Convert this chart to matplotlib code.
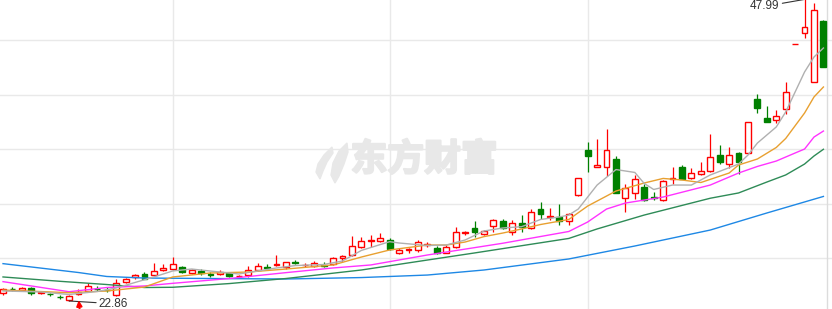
import matplotlib
matplotlib.use("Agg")
import matplotlib.pyplot as plt
import matplotlib.patheffects as pe
from matplotlib.patches import Rectangle, Polygon

# daily K-line (price units)
opens = [23.52, 23.88, 23.77, 23.94, 23.52, 23.46, 23.19, 22.97, 23.44, 23.72,
         23.87, 23.80, 23.36, 24.42, 24.83, 25.11, 25.05, 25.44, 25.55, 25.66,
         25.21, 25.36, 25.11, 25.08, 25.17, 24.92, 25.00, 25.47, 25.69, 25.83,
         25.69, 26.11, 25.82, 25.80, 25.86, 25.92, 26.42, 26.72, 27.36, 27.86,
         27.83, 27.92, 26.83, 27.13, 27.11, 27.52, 27.27, 26.88, 27.38, 28.50,
         28.92, 28.42, 29.08, 29.50, 28.58, 29.36, 28.97, 30.50, 29.83, 29.83,
         29.52, 31.69, 35.44, 34.05, 34.00, 34.69, 31.42, 31.88, 32.33, 31.52,
         31.27, 32.99, 34.00, 33.08, 33.42, 33.72, 35.02, 34.27, 35.17, 35.17,
         39.67, 38.08, 37.91, 38.86, 44.30, 45.17, 41.13, 46.22]
highs = [23.94, 24.02, 24.02, 24.02, 23.72, 23.55, 23.36, 23.36, 23.83, 24.36,
         24.11, 24.05, 24.69, 24.75, 25.11, 25.27, 26.00, 25.97, 26.50, 25.77,
         25.55, 25.52, 25.27, 25.44, 25.30, 25.05, 25.77, 26.00, 25.92, 26.69,
         26.13, 26.25, 26.00, 26.17, 26.13, 26.50, 26.72, 28.27, 28.17, 28.36,
         28.50, 28.13, 27.25, 27.30, 27.94, 27.80, 27.44, 27.52, 29.05, 28.71,
         29.52, 28.77, 29.69, 29.67, 29.61, 30.02, 30.52, 31.08, 30.58, 30.92,
         30.17, 33.11, 36.08, 36.36, 37.19, 34.97, 32.61, 33.36, 32.61, 31.97,
         32.91, 34.00, 34.19, 33.92, 34.42, 36.75, 35.86, 35.67, 35.25, 37.77,
         40.08, 39.11, 38.77, 41.13, 44.30, 47.99, 47.72, 46.27]
lows = [23.36, 23.69, 23.69, 23.36, 23.44, 23.30, 23.03, 22.86, 23.36, 23.61,
        23.67, 23.63, 23.30, 24.33, 24.69, 24.69, 25.00, 25.33, 25.44, 25.16,
        25.08, 25.05, 24.86, 25.05, 24.88, 24.80, 24.83, 25.38, 25.44, 25.77,
        25.52, 25.94, 25.72, 25.72, 25.72, 25.83, 26.13, 26.61, 27.27, 27.38,
        27.75, 27.11, 26.77, 26.88, 26.92, 27.38, 26.77, 26.83, 27.25, 28.36,
        28.17, 28.36, 28.58, 28.83, 28.36, 28.63, 28.83, 29.69, 29.61, 29.19,
        29.19, 31.61, 33.63, 34.05, 33.30, 31.88, 30.30, 31.33, 31.21, 31.27,
        31.19, 32.61, 33.02, 33.02, 33.36, 33.63, 34.25, 33.97, 33.44, 35.15,
        38.50, 37.80, 37.67, 38.42, 44.30, 44.75, 41.13, 42.38]
closes = [23.86, 23.83, 23.90, 23.52, 23.57, 23.42, 23.15, 23.25, 23.63, 24.13,
          23.83, 23.75, 24.38, 24.67, 25.02, 24.73, 25.33, 25.61, 25.92, 25.27,
          25.44, 25.17, 25.06, 25.30, 24.97, 24.96, 25.47, 25.75, 25.64, 25.97,
          26.07, 26.06, 25.87, 26.00, 25.81, 26.42, 26.58, 27.47, 27.83, 27.94,
          28.08, 27.22, 27.11, 27.22, 27.75, 27.63, 26.88, 27.38, 28.63, 28.63,
          28.58, 28.66, 29.61, 28.94, 29.33, 29.00, 30.25, 30.08, 29.94, 29.55,
          30.08, 33.08, 34.94, 34.19, 35.42, 31.88, 32.25, 32.99, 31.27, 31.47,
          32.88, 33.13, 33.02, 33.50, 33.72, 34.83, 34.47, 35.00, 34.42, 37.75,
          38.92, 37.80, 38.25, 40.25, 44.30, 45.66, 47.11, 42.38]

# moving average lines at these candle indices
ma5_idx = [0, 4, 7, 10, 12, 14, 16, 18, 20, 23, 25, 26, 29, 31, 34, 36, 38, 41, 42, 45,
           47, 49, 51, 53, 55, 57, 59, 60, 61, 63, 65, 67, 68, 69, 71, 73, 75, 78, 79, 80,
           82, 83, 85, 86, 87]
ma5 = [23.69, 23.61, 23.40, 23.65, 23.94, 24.40, 24.86, 25.36, 25.52, 25.27,
       25.11, 25.23, 25.61, 25.81, 25.90, 26.19, 27.07, 27.80, 27.69, 27.48,
       27.52, 27.94, 28.69, 28.94, 29.05, 29.65, 29.86, 30.02, 30.52, 32.52,
       33.81, 33.57, 32.65, 32.15, 32.52, 32.52, 33.36, 34.27, 35.02, 36.02,
       37.36, 38.61, 41.94, 43.19, 43.94]
ma10_idx = [0, 7, 11, 15, 18, 22, 26, 30, 35, 38, 41, 45, 47, 49, 51, 53, 55, 57, 60, 62,
            65, 68, 70, 72, 74, 77, 78, 80, 82, 83, 85, 86, 87]
ma10 = [23.77, 23.55, 23.69, 24.02, 24.86, 25.19, 25.27, 25.52, 25.86, 26.52,
        27.11, 27.52, 27.52, 27.77, 28.22, 28.52, 28.86, 29.23, 29.65, 30.77,
        32.02, 32.69, 33.07, 32.94, 32.73, 33.52, 34.19, 34.69, 35.65, 36.40,
        38.52, 39.86, 40.69]
ma20_idx = [0, 7, 11, 15, 18, 24, 30, 35, 39, 45, 53, 60, 62, 64, 66, 70, 75, 78, 80, 82,
            84, 85, 86, 87]
ma20 = [24.47, 23.63, 23.98, 24.11, 24.33, 24.73, 25.22, 25.61, 25.86, 26.69,
        27.67, 28.65, 29.44, 30.52, 31.02, 31.52, 32.52, 33.52, 34.07, 34.52,
        35.19, 35.52, 36.52, 37.02]
ma30_idx = [0, 6, 11, 15, 18, 24, 30, 38, 45, 50, 60, 63, 68, 75, 78, 81, 83, 85, 86, 87]
ma30 = [24.86, 24.50, 24.23, 23.98, 24.00, 24.31, 24.73, 25.44, 26.27, 26.86,
        28.07, 28.86, 30.02, 31.42, 31.86, 32.77, 33.36, 34.27, 34.94, 35.50]
ma60_idx = [0, 8, 11, 15, 22, 30, 38, 45, 51, 60, 67, 75, 81, 87]
ma60 = [25.97, 25.23, 24.90, 24.77, 24.73, 24.69, 24.81, 25.02, 25.44, 26.36,
        27.44, 28.77, 30.19, 31.57]

grid_prices = [26.44, 30.98, 35.52, 40.06, 44.60]
month_idx = [18, 41, 62]
max_idx, max_price = 85, 47.99
min_idx, min_price = 7, 22.86
buy_idx, buy_price = 8, 23.15

UP = "#ff0000"
DOWN = "#008000"
W, H = 832, 309

fig = plt.figure(figsize=(W / 100, H / 100), dpi=100)
ax = fig.add_axes([0, 0, 1, 1])
ax.set_xlim(-0.32, 87.91)
ax.set_ylim(22.19, 47.94)
ax.axis("off")

for p in grid_prices:
    ax.axhline(p, color="#e9e9e9", lw=1.0, zorder=0)
for m in month_idx:
    ax.axvline(m, color="#e9e9e9", lw=1.0, zorder=0)
ax.axvline(87.4, color="#dcdcdc", lw=1.0, zorder=0)


def px(x, y):
    return (x / W, 1 - y / H)


# watermark
WM = "#e8e8e8"
wm = dict(facecolor=WM, edgecolor=WM, lw=1.0, transform=ax.transAxes, zorder=0.5)
ax.add_patch(Polygon([px(*p) for p in [(332, 147), (324, 155), (318, 164), (316, 172),
                                        (320, 179), (323, 171), (327, 162), (333, 153)]], **wm))
ax.add_patch(Polygon([px(*p) for p in [(347, 143), (339, 151), (333, 163), (331, 175),
                                        (335, 183), (339, 176), (344, 164), (348, 152)]], **wm))
ax.text(*px(424, 160), "东方财富", transform=ax.transAxes, ha="center", va="center",
        fontsize=26.5, fontweight="heavy", color=WM,
        family=["Noto Sans CJK SC", "DejaVu Sans"], zorder=0.5,
        path_effects=[pe.withStroke(linewidth=1.6, foreground=WM)])

bw = 0.62
for i, (o, h, l, c) in enumerate(zip(opens, highs, lows, closes)):
    top, bot = max(o, c), min(o, c)
    if c >= o:
        ax.vlines(i, top, h, color=UP, lw=0.9, zorder=3)
        ax.vlines(i, l, bot, color=UP, lw=0.9, zorder=3)
        ax.add_patch(Rectangle((i - bw / 2, bot), bw, top - bot, facecolor="white",
                               edgecolor=UP, lw=1.0, zorder=3))
    else:
        ax.vlines(i, l, h, color=DOWN, lw=0.9, zorder=3)
        ax.add_patch(Rectangle((i - bw / 2, bot), bw, top - bot, facecolor=DOWN,
                               edgecolor=DOWN, lw=1.0, zorder=3))

ax.plot(ma60_idx, ma60, color="#1e88e5", lw=1.0, zorder=4)
ax.plot(ma30_idx, ma30, color="#2e8b57", lw=1.0, zorder=4)
ax.plot(ma20_idx, ma20, color="#ff33ff", lw=1.0, zorder=4)
ax.plot(ma10_idx, ma10, color="#e8a030", lw=1.0, zorder=4)
ax.plot(ma5_idx, ma5, color="#b0b0b0", lw=1.0, zorder=4)

num = dict(fontsize=8.5, color="#333333", family="Liberation Sans", va="center",
           arrowprops=dict(arrowstyle="-", color="#333333", lw=0.8,
                           shrinkA=0, shrinkB=0),
           annotation_clip=False)
ax.annotate(f"{max_price:.2f}", xy=(max_idx, max_price), xytext=(-18, -5),
            textcoords="offset points", ha="right", zorder=5, **num)
ax.annotate(f"{min_price:.2f}", xy=(min_idx, min_price), xytext=(21.5, -2.0),
            textcoords="offset points", ha="left", zorder=5, **num)
ax.annotate("", xy=(buy_idx, buy_price), xytext=(buy_idx + 0.15, buy_price - 1.2),
            arrowprops=dict(arrowstyle="-|>", color=UP, lw=1.4, mutation_scale=8),
            annotation_clip=False, zorder=5)

fig.savefig("out.png", dpi=100)
